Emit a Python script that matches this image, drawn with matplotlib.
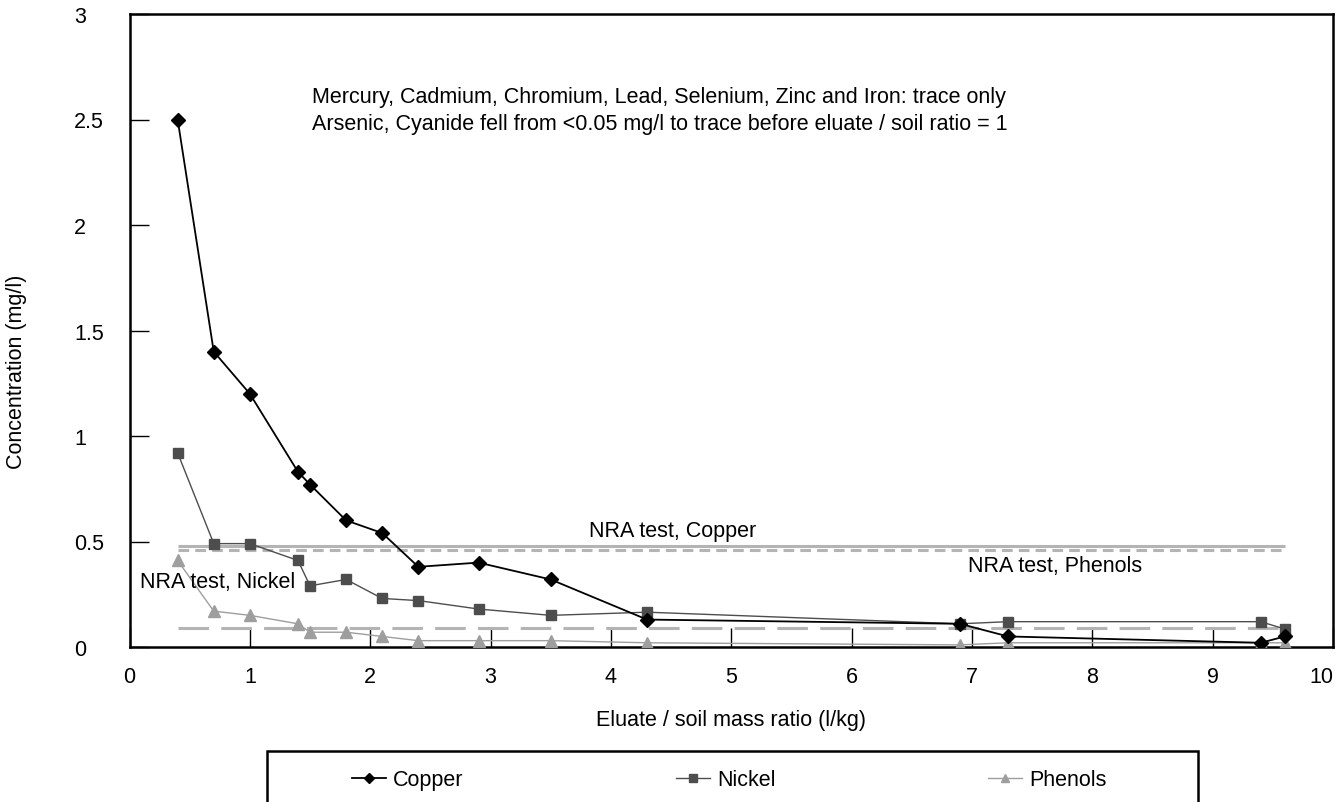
import matplotlib
matplotlib.use("Agg")
import matplotlib.pyplot as plt
from matplotlib.patches import Rectangle

# Leaching test results: concentration in eluate vs eluate/soil mass ratio
ratio = [0.4, 0.7, 1.0, 1.4, 1.5, 1.8, 2.1, 2.4, 2.9, 3.5, 4.3, 6.9, 7.3, 9.4, 9.6]
copper = [2.50, 1.40, 1.20, 0.83, 0.77, 0.60, 0.54, 0.38, 0.40, 0.32, 0.13, 0.11, 0.05, 0.02, 0.05]
nickel = [0.92, 0.49, 0.49, 0.41, 0.29, 0.32, 0.23, 0.22, 0.18, 0.15, 0.165, 0.11, 0.12, 0.12, 0.085]
phenols = [0.41, 0.17, 0.15, 0.11, 0.07, 0.07, 0.05, 0.03, 0.03, 0.03, 0.02, 0.01, 0.02, 0.02, 0.02]

# NRA test reference levels (mg/l) and the ratio range they span
nra_copper = 0.48
nra_phenols = 0.46
nra_nickel = 0.09
nra_span = [0.4, 9.6]

x_ticks = [0, 1, 2, 3, 4, 5, 6, 7, 8, 9, 10]
y_ticks = [0, 0.5, 1, 1.5, 2, 2.5, 3]
y_tick_labels = ["0", "0.5", "1", "1.5", "2", "2.5", "3"]

plt.rcParams["font.family"] = ["Liberation Sans", "DejaVu Sans"]
FS = 15.5

W, H = 1337, 803
fig = plt.figure(figsize=(W / 100, H / 100), dpi=100)
ax = fig.add_axes([129.5 / W, 1 - 648 / H, 1203.5 / W, 633 / H])

NRA_GREY = "#b4b4b4"
ax.plot(nra_span, [nra_copper, nra_copper], color=NRA_GREY, lw=2.2, solid_capstyle="butt")
ax.plot(nra_span, [nra_phenols, nra_phenols], color=NRA_GREY, lw=2.2, dashes=(3.5, 2.0))
ax.plot(nra_span, [nra_nickel, nra_nickel], color=NRA_GREY, lw=2.2, dashes=(10, 4))

l_cu, = ax.plot(ratio, copper, color="black", lw=1.3, marker="D", ms=7,
                mfc="black", mec="black", label="Copper", zorder=5)
l_ni, = ax.plot(ratio, nickel, color="#4d4d4d", lw=1.0, marker="s", ms=7,
                mfc="#4d4d4d", mec="#4d4d4d", label="Nickel", zorder=4)
l_ph, = ax.plot(ratio, phenols, color="#9e9e9e", lw=1.0, marker="^", ms=8,
                mfc="#9e9e9e", mec="#9e9e9e", label="Phenols", zorder=3)

ax.set_xlim(0, 10)
ax.set_ylim(0, 3)
ax.set_xticks(x_ticks)
ax.set_yticks(y_ticks)
ax.set_yticklabels(y_tick_labels)
ax.tick_params(axis="both", direction="in", length=14, width=1.0, labelsize=FS,
               colors="black")
ax.tick_params(axis="x", pad=14)
ax.tick_params(axis="y", pad=40)
for lbl in ax.get_yticklabels():
    lbl.set_horizontalalignment("left")
ax.get_xticklabels()[-1].set_horizontalalignment("right")
for sp in ax.spines.values():
    sp.set_linewidth(1.8)
    sp.set_color("black")

ax.set_xlabel("Eluate / soil mass ratio (l/kg)", fontsize=FS)
ax.xaxis.set_label_coords(0.5, (648 - 710) / 633)
ax.set_ylabel("Concentration (mg/l)", fontsize=FS)
ax.yaxis.set_label_coords((27 - 129.5) / 1203.5, (648 - 372) / 633)

ax.text(1.515, 2.583, "Mercury, Cadmium, Chromium, Lead, Selenium, Zinc and Iron: trace only",
        fontsize=FS, ha="left", va="baseline")
ax.text(1.515, 2.455, "Arsenic, Cyanide fell from <0.05 mg/l to trace before eluate / soil ratio = 1",
        fontsize=FS, ha="left", va="baseline")
ax.text(4.51, 0.55, "NRA test, Copper", fontsize=FS, ha="center", va="center")
ax.text(7.69, 0.384, "NRA test, Phenols", fontsize=FS, ha="center", va="center")
ax.text(0.09, 0.31, "NRA test, Nickel", fontsize=FS, ha="left", va="center", zorder=6)

# Legend frame running off the lower edge of the figure
fig.patches.append(Rectangle((267 / W, -0.05), (1198 - 267) / W, 0.05 + 1 - 752 / H,
                             transform=fig.transFigure, fill=False, lw=1.8,
                             edgecolor="black"))
legend_x = [352, 676, 988]
for handle, lx in zip([l_cu, l_ni, l_ph], legend_x):
    fig.legend(handles=[handle], loc="center left",
               bbox_to_anchor=(lx / W, 1 - 781 / H), frameon=False, fontsize=FS,
               handlelength=1.6, handletextpad=0.3, borderpad=0, borderaxespad=0,
               markerscale=0.8)

fig.savefig("out.png", dpi=100)
